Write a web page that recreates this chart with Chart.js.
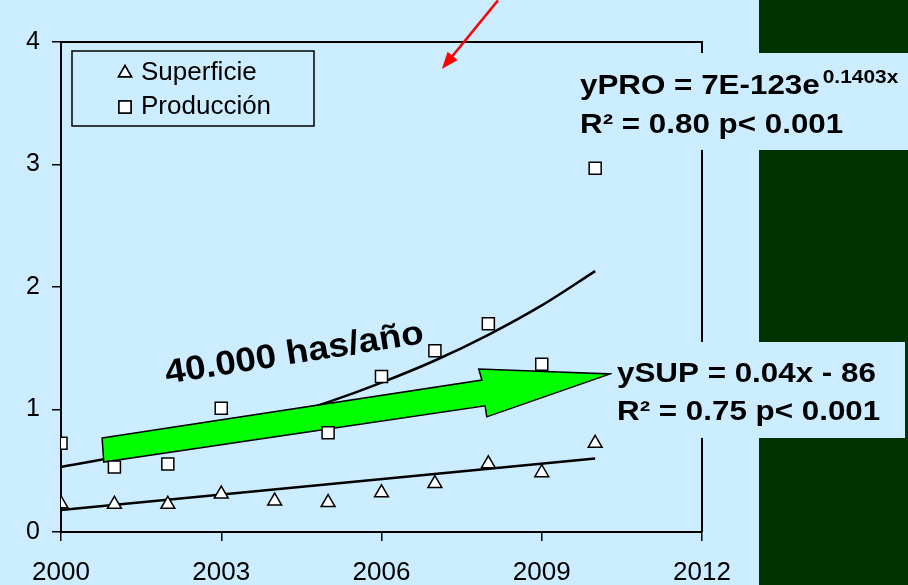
<!DOCTYPE html>
<html>
<head>
<meta charset="utf-8">
<script src="https://cdn.jsdelivr.net/npm/chart.js@4.4.1/dist/chart.umd.min.js"></script>
<style>
    html, body { margin: 0; padding: 0; }
    body { width: 908px; height: 585px; background: #ccecff; position: relative; overflow: hidden; }
    #panel { position: absolute; left: 759px; top: 0; width: 149px; height: 585px; background: #003300; }
    #wrap { position: absolute; left: 0; top: 0; width: 908px; height: 585px; }
</style>
</head>
<body>
<div id="panel"></div>
<div id="wrap"><canvas id="trendChart" width="908" height="585"></canvas></div>
<script>
// Data
const years = [2000, 2001, 2002, 2003, 2004, 2005, 2006, 2007, 2008, 2009, 2010];
const superficie = [0.23, 0.226, 0.226, 0.31, 0.253, 0.24, 0.32, 0.395, 0.557, 0.484, 0.724];
const produccion = [0.725, 0.53, 0.555, 1.01, null, 0.81, 1.27, 1.48, 1.70, 1.37, 2.97];
// fitted curves as drawn on the picture
const ajusteProduccion = [0.53, 0.61, 0.70, 0.80, 0.92, 1.06, 1.22, 1.40, 1.61, 1.85, 2.13];
const ajusteSupYears = [2000, 2010];
const ajusteSuperficie = [0.18, 0.60];
const xTicks = [2000, 2003, 2006, 2009, 2012];
const yTicks = [0, 1, 2, 3, 4];

const FONT = "'Liberation Sans', Arial, sans-serif";
const BG = '#ccecff';

function toPoints(xs, ys) {
    return xs.map((x, i) => ({ x: x, y: ys[i] })).filter(p => p.y !== null);
}

// text stretched a bit horizontally, like the original slide
function stretchedText(ctx, txt, x, y, size, bold, sx) {
    ctx.save();
    ctx.translate(x, y);
    ctx.scale(sx, 1);
    ctx.font = (bold ? 'bold ' : '') + size + 'px ' + FONT;
    ctx.fillText(txt, 0, 0);
    const w = ctx.measureText(txt).width * sx;
    ctx.restore();
    return w;
}

// Annotations (green arrow, labels, equations, legend)
const annotations = {
    id: 'annotations',
    beforeDatasetsDraw(chart) {
        const ctx = chart.ctx, a = chart.chartArea;
        this._arrowDone = false;
        ctx.save();
        ctx.strokeStyle = '#000';
        ctx.lineWidth = 2;
        ctx.beginPath();
        ctx.moveTo(a.left, a.top);
        ctx.lineTo(a.right, a.top);
        ctx.lineTo(a.right, a.bottom);
        ctx.stroke();
        ctx.restore();
    },
    beforeDatasetDraw(chart, args) {
        if (this._arrowDone || args.index > 1) return;
        this._arrowDone = true;
        const ctx = chart.ctx, xs = chart.scales.x, ys = chart.scales.y;
        // polygon in data units
        const flecha = [[2000.77, 0.767], [2007.88, 1.24], [2007.82, 1.33], [2010.28, 1.29],
                        [2007.97, 0.94], [2007.94, 1.03], [2000.80, 0.571]];
        ctx.save();
        ctx.beginPath();
        flecha.forEach((p, i) => {
            const px = xs.getPixelForValue(p[0]), py = ys.getPixelForValue(p[1]);
            if (i === 0) ctx.moveTo(px, py); else ctx.lineTo(px, py);
        });
        ctx.closePath();
        ctx.fillStyle = '#00ff00';
        ctx.fill();
        ctx.strokeStyle = '#000';
        ctx.lineWidth = 1.5;
        ctx.lineJoin = 'miter';
        ctx.stroke();
        ctx.restore();
    },
    afterDraw(chart) {
        const ctx = chart.ctx, a = chart.chartArea, xs = chart.scales.x, ys = chart.scales.y;

        // rotated label
        ctx.save();
        ctx.fillStyle = '#000';
        ctx.translate(xs.getPixelForValue(2001.98), ys.getPixelForValue(1.21));
        ctx.rotate(-9 * Math.PI / 180);
        stretchedText(ctx, '40.000 has/año', 0, 0, 34, true, 1.08);
        ctx.restore();

        // red pointer at top
        const x1 = xs.getPixelForValue(2008.18), y1 = ys.getPixelForValue(4.34);
        const x2 = xs.getPixelForValue(2007.13), y2 = ys.getPixelForValue(3.78);
        const ang = Math.atan2(y2 - y1, x2 - x1);
        ctx.save();
        ctx.strokeStyle = '#ff0000';
        ctx.fillStyle = '#ff0000';
        ctx.lineWidth = 2.5;
        ctx.beginPath();
        ctx.moveTo(x1, y1);
        ctx.lineTo(x2 - 10 * Math.cos(ang), y2 - 10 * Math.sin(ang));
        ctx.stroke();
        ctx.beginPath();
        ctx.moveTo(x2, y2);
        ctx.lineTo(x2 - 17 * Math.cos(ang) + 6.5 * Math.sin(ang), y2 - 17 * Math.sin(ang) - 6.5 * Math.cos(ang));
        ctx.lineTo(x2 - 17 * Math.cos(ang) - 6.5 * Math.sin(ang), y2 - 17 * Math.sin(ang) + 6.5 * Math.cos(ang));
        ctx.closePath();
        ctx.fill();
        ctx.restore();

        // equation boxes
        ctx.save();
        ctx.fillStyle = BG;
        ctx.fillRect(572, 53, 336, 97);
        ctx.fillRect(612, 342, 293, 96);
        ctx.fillStyle = '#000';
        ctx.textBaseline = 'alphabetic';
        const w = stretchedText(ctx, 'yPRO = 7E-123e', 580, 94, 28, true, 1.12);
        stretchedText(ctx, '0.1403x', 580 + w + 3, 83, 19, true, 1.1);
        stretchedText(ctx, 'R² = 0.80 p< 0.001', 580, 133, 28, true, 1.12);
        stretchedText(ctx, 'ySUP = 0.04x - 86', 617, 382, 28, true, 1.12);
        stretchedText(ctx, 'R² = 0.75 p< 0.001', 617, 420, 28, true, 1.12);
        ctx.restore();

        // legend box inside plot
        const lx = a.left + 11, ly = a.top + 9;
        ctx.save();
        ctx.strokeStyle = '#000';
        ctx.lineWidth = 1.5;
        ctx.strokeRect(lx, ly, 242, 75);
        const items = [chart.data.datasets[0], chart.data.datasets[1]];
        items.forEach((ds, i) => {
            const cy = ly + 22 + i * 34;
            Chart.helpers.drawPoint(ctx, {
                pointStyle: ds.pointStyle,
                radius: ds.pointStyle === 'rect' ? 8.5 : 7.5,
                borderWidth: 1.5
            }, lx + 53, cy);
            ctx.fillStyle = '#fff';
            ctx.strokeStyle = '#000';
            ctx.fill();
            ctx.stroke();
            ctx.fillStyle = '#000';
            ctx.font = '26px ' + FONT;
            ctx.textBaseline = 'middle';
            ctx.fillText(ds.label, lx + 69, cy);
        });
        ctx.restore();
    }
};

const ctx = document.getElementById('trendChart');
const trendChart = new Chart(ctx, {
    type: 'scatter',
    data: {
        datasets: [{
            label: 'Superficie',
            data: toPoints(years, superficie),
            pointStyle: 'triangle',
            pointRadius: 8,
            backgroundColor: '#fff',
            borderColor: '#000',
            borderWidth: 1.5,
            order: 1
        }, {
            label: 'Producción',
            data: toPoints(years, produccion),
            pointStyle: 'rect',
            pointRadius: 8.5,
            backgroundColor: '#fff',
            borderColor: '#000',
            borderWidth: 1.5,
            order: 1
        }, {
            label: 'Ajuste producción',
            type: 'line',
            data: toPoints(years, ajusteProduccion),
            borderColor: '#000',
            borderWidth: 2.5,
            pointRadius: 0,
            cubicInterpolationMode: 'monotone',
            fill: false,
            order: 2
        }, {
            label: 'Ajuste superficie',
            type: 'line',
            data: toPoints(ajusteSupYears, ajusteSuperficie),
            borderColor: '#000',
            borderWidth: 2.5,
            pointRadius: 0,
            fill: false,
            order: 2
        }]
    },
    options: {
        responsive: false,
        animation: false,
        devicePixelRatio: 1,
        layout: { padding: { left: 0, top: 42, right: 206, bottom: 0 } },
        plugins: {
            legend: { display: false },
            tooltip: { enabled: false }
        },
        scales: {
            x: {
                type: 'linear',
                min: 2000,
                max: 2012,
                afterBuildTicks: (scale) => { scale.ticks = xTicks.map(v => ({ value: v })); },
                afterFit: (scale) => { scale.height = 53; },
                ticks: {
                    color: '#000',
                    font: { family: FONT, size: 26 },
                    padding: 16,
                    maxRotation: 0,
                    autoSkip: false,
                    callback: (v) => String(v)
                },
                grid: { drawOnChartArea: false, drawTicks: true, tickLength: 9, color: '#000', lineWidth: 1.5 },
                border: { display: true, color: '#000', width: 2 }
            },
            y: {
                min: 0,
                max: 4,
                afterBuildTicks: (scale) => { scale.ticks = yTicks.map(v => ({ value: v })); },
                afterFit: (scale) => { scale.width = 61; },
                ticks: {
                    color: '#000',
                    font: { family: FONT, size: 25 },
                    padding: 12,
                    callback: (v) => String(v)
                },
                grid: { drawOnChartArea: false, drawTicks: true, tickLength: 9, color: '#000', lineWidth: 1.5 },
                border: { display: true, color: '#000', width: 2 }
            }
        }
    },
    plugins: [annotations]
});
</script>
</body>
</html>
